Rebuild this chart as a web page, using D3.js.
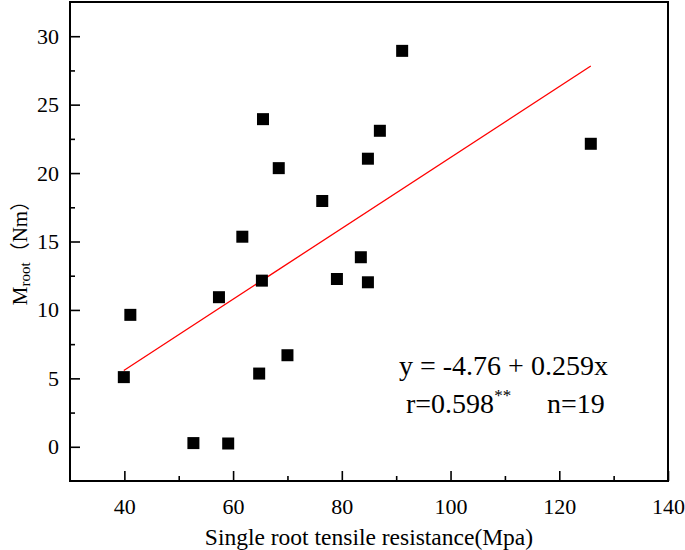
<!DOCTYPE html>
<html>
<head>
<meta charset="utf-8">
<script src="https://cdn.jsdelivr.net/npm/d3@7"></script>
<style>
html,body{margin:0;padding:0;background:#fff;}
svg{display:block;}
text{font-family:"Liberation Serif","Times New Roman",serif;fill:#000;}
</style>
</head>
<body>
<div id="chart"></div>
<script>
// Data
const tensile = [39.9, 41.1, 52.7, 57.4, 59.1, 61.7, 64.8, 65.3, 65.5, 68.4, 70.0, 76.4, 79.1, 83.5, 84.8, 84.8, 87.0, 91.1, 125.8];
const mroot   = [5.09, 9.64, 0.27, 10.93, 0.24, 15.35, 5.35, 12.14, 23.94, 20.36, 6.69, 17.96, 12.26, 13.85, 12.02, 21.05, 23.09, 28.93, 22.14];
const fitIntercept = -4.76;
const fitSlope = 0.259;
const xTicks = [40, 60, 80, 100, 120, 140];
const yTicks = [0, 5, 10, 15, 20, 25, 30];
const xMinor = [50, 70, 90, 110, 130];
const yMinor = [2.5, 7.5, 12.5, 17.5, 22.5, 27.5];

const W = 685, H = 550;
const m = {left: 70, right: 17, top: 2, bottom: 69};
const FONT = "'Liberation Serif', 'Times New Roman', serif";
const svg = d3.select("#chart").append("svg").attr("width", W).attr("height", H);

const x = d3.scaleLinear().domain([30, 140]).range([m.left, W - m.right]);
const y = d3.scaleLinear().domain([-2.5, 32.5]).range([H - m.bottom, m.top]);

const g = svg.append("g");

// axes
const xAxis = d3.axisBottom(x).tickValues(xTicks).tickSize(-10).tickPadding(17).tickFormat(d3.format("d"));
const yAxis = d3.axisLeft(y).tickValues(yTicks).tickSize(-10).tickPadding(11).tickFormat(d3.format("d"));
const xAxisMinor = d3.axisBottom(x).tickValues(xMinor).tickSize(-5).tickFormat("");
const yAxisMinor = d3.axisLeft(y).tickValues(yMinor).tickSize(-5).tickFormat("");

function style(sel){
  sel.attr("font-family", FONT).attr("font-size", 22);
  sel.select(".domain").remove();
  sel.selectAll("line").attr("stroke", "#000").attr("stroke-width", 1.6);
  sel.selectAll("text").style("font-family", FONT).style("font-size", "22px").attr("fill", "#000");
}
g.append("g").attr("transform", `translate(0,${H - m.bottom})`).call(xAxis).call(style);
g.append("g").attr("transform", `translate(${m.left},0)`).call(yAxis).call(style);
g.append("g").attr("transform", `translate(0,${H - m.bottom})`).call(xAxisMinor).call(style);
g.append("g").attr("transform", `translate(${m.left},0)`).call(yAxisMinor).call(style);

// frame
g.append("rect")
  .attr("x", m.left).attr("y", m.top)
  .attr("width", W - m.right - m.left).attr("height", H - m.bottom - m.top)
  .attr("fill", "none").attr("stroke", "#000").attr("stroke-width", 2);

// regression line
const xExt = d3.extent(tensile);
const fit = xExt.map(v => [v, fitIntercept + fitSlope * v]);
g.append("path")
  .datum(fit)
  .attr("d", d3.line().x(d => x(d[0])).y(d => y(d[1])))
  .attr("stroke", "#ff0000").attr("stroke-width", 1.3).attr("fill", "none");

// points
const s = 12;
g.selectAll("rect.pt").data(tensile.map((v, i) => [v, mroot[i]]))
  .join("rect").attr("class", "pt")
  .attr("x", d => x(d[0]) - s / 2).attr("y", d => y(d[1]) - s / 2)
  .attr("width", s).attr("height", s).attr("fill", "#000");

// axis titles
svg.append("text")
  .attr("x", (m.left + W - m.right) / 2).attr("y", 545)
  .attr("text-anchor", "middle").style("font-size", "23.5px")
  .text("Single root tensile resistance(Mpa)");

const yl = svg.append("text")
  .attr("transform", `translate(27,248) rotate(-90)`)
  .attr("text-anchor", "middle").style("font-size", "21px");
yl.append("tspan").text("M");
yl.append("tspan").attr("dy", 3).style("font-size", "15px").text("root");
yl.append("tspan").attr("dy", -3).style("font-family", "'Noto Sans CJK SC', serif").style("font-size", "20px").text("（");
yl.append("tspan").text("Nm");
yl.append("tspan").style("font-family", "'Noto Sans CJK SC', serif").style("font-size", "20px").text("）");

// annotation
svg.append("text").attr("x", 399).attr("y", 375).style("font-size", "28px")
  .text("y = -4.76 + 0.259x");
const t2 = svg.append("text").attr("x", 406).attr("y", 413).style("font-size", "28px");
t2.append("tspan").text("r=0.598");
t2.append("tspan").attr("dy", -12).style("font-size", "17px").text("**");
t2.append("tspan").attr("dy", 12).attr("x", 547).text("n=19");
</script>
</body>
</html>
